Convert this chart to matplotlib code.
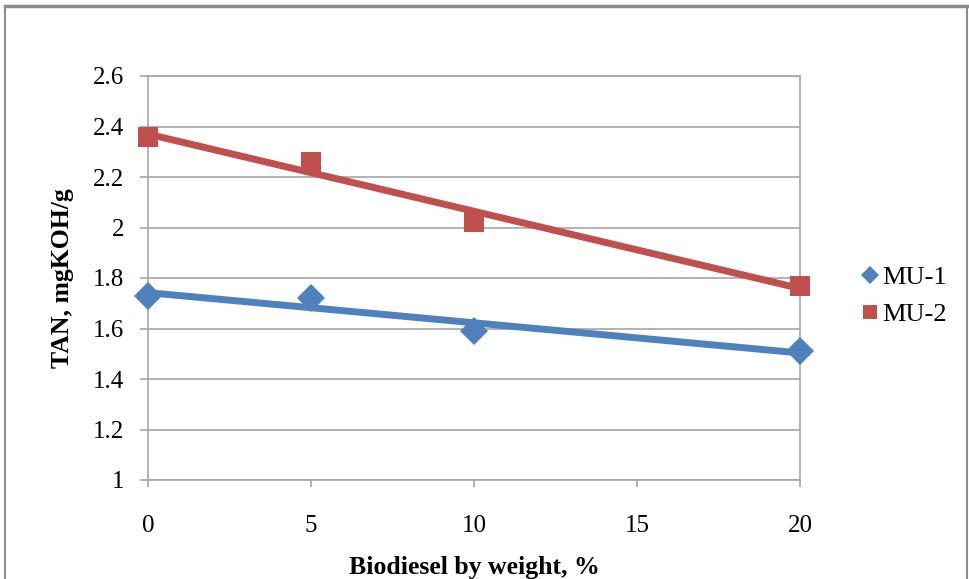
import matplotlib
matplotlib.use("Agg")
import matplotlib.pyplot as plt
import numpy as np
from matplotlib.lines import Line2D

plt.rcParams['font.family'] = ['Liberation Serif', 'DejaVu Serif']

# Data
biodiesel = [0, 5, 10, 20]
mu1 = [1.73, 1.72, 1.59, 1.51]
mu2 = [2.36, 2.26, 2.02, 1.77]
series_names = ["MU-1", "MU-2"]
x_ticks = [0, 5, 10, 15, 20]
y_ticks = [1, 1.2, 1.4, 1.6, 1.8, 2, 2.2, 2.4, 2.6]
y_tick_labels = ["1", "1.2", "1.4", "1.6", "1.8", "2", "2.2", "2.4", "2.6"]

blue = "#4F81BD"
red = "#C0504D"
grid_c = "#A6A6A6"

fig = plt.figure(figsize=(9.69, 5.79), dpi=100)
ax = fig.add_axes([148/969, 1-480/579, (800-148)/969, (480-76)/579])

xs = np.array(biodiesel, dtype=float)
xfit = np.array([min(biodiesel), max(biodiesel)], dtype=float)
for ys, col, mk, ms, name in [(mu1, blue, 'D', 14, series_names[0]),
                              (mu2, red, 's', 14.5, series_names[1])]:
    p = np.polyfit(xs, np.array(ys), 1)
    ax.plot(xfit, np.polyval(p, xfit), color=col, lw=5, solid_capstyle='butt', zorder=3)
    ax.plot(xs, ys, linestyle='none', marker=mk, markersize=ms, color=col,
            markeredgewidth=0, label=name, zorder=4, clip_on=False)

ax.set_xlim(0, 20)
ax.set_ylim(1, 2.6)
ax.set_xticks(x_ticks)
ax.set_xticklabels([str(t) for t in x_ticks])
ax.set_yticks(y_ticks)
ax.set_yticklabels(y_tick_labels)
ax.yaxis.grid(True, color=grid_c, lw=1.2)
ax.set_axisbelow(True)
for s in ax.spines.values():
    s.set_color(grid_c)
    s.set_linewidth(1.2)
ax.tick_params(axis='both', colors=grid_c, labelcolor='black', labelsize=18, width=1.2)
ax.tick_params(axis='y', length=6, pad=11)
ax.tick_params(axis='x', length=5, pad=20)

ax.set_xlabel("Biodiesel by weight, %", fontsize=18.5, fontweight='bold', labelpad=14)
ax.set_ylabel("TAN, mgKOH/g", fontsize=18.5, fontweight='bold', labelpad=14)

leg = fig.legend(loc='center left', bbox_to_anchor=(852/969, 1-296/579),
                 frameon=False, fontsize=19, handlelength=0.6, handletextpad=0.15,
                 labelspacing=0.5, markerscale=0.65, borderaxespad=0)

# outer chart border
bc = "#8C8C8C"
fig.add_artist(Line2D([5/969, 967/969], [1-6/579, 1-6/579], color=bc, lw=2.5, transform=fig.transFigure))
fig.add_artist(Line2D([5/969, 5/969], [0, 1-6/579], color=bc, lw=1.5, transform=fig.transFigure))
fig.add_artist(Line2D([967/969, 967/969], [0, 1-6/579], color=bc, lw=1.5, transform=fig.transFigure))

fig.savefig("out.png", dpi=100)
